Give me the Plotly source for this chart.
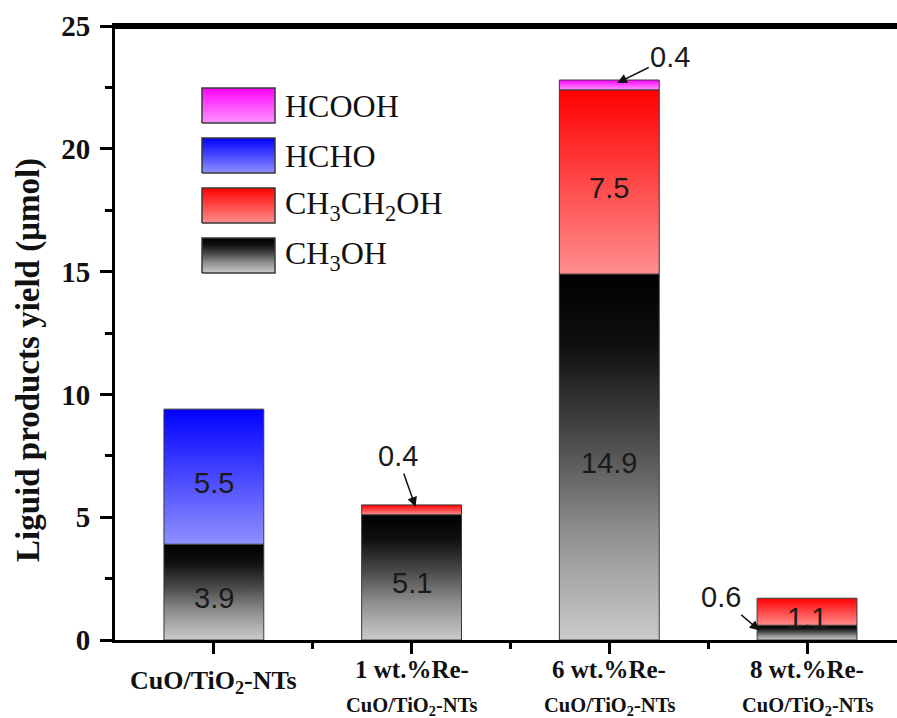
import plotly.graph_objects as go

# ---------------- data ----------------
categories = ["CuO/TiO<sub>2</sub>-NTs",
              "1 wt.%Re-|CuO/TiO<sub>2</sub>-NTs",
              "6 wt.%Re-|CuO/TiO<sub>2</sub>-NTs",
              "8 wt.%Re-|CuO/TiO<sub>2</sub>-NTs"]
series_names = ["CH<sub>3</sub>OH", "CH<sub>3</sub>CH<sub>2</sub>OH", "HCHO", "HCOOH"]
ch3oh = [3.9, 5.1, 14.9, 0.6]
ch3ch2oh = [0.0, 0.4, 7.5, 1.1]
hcho = [5.5, 0.0, 0.0, 0.0]
hcooh = [0.0, 0.0, 0.4, 0.0]
y_ticks = [0, 5, 10, 15, 20, 25]

# ---------------- styles ----------------
scales = {
    "CH<sub>3</sub>OH": [[0, "#cbcbcb"], [0.3, "#8e8e8e"], [0.55, "#4a4a4a"], [0.8, "#101010"], [1, "#000000"]],
    "CH<sub>3</sub>CH<sub>2</sub>OH": [[0, "#ff8e8e"], [0.5, "#ff4848"], [1, "#ff0000"]],
    "HCHO": [[0, "#9090ff"], [0.5, "#4848ff"], [1, "#0000ff"]],
    "HCOOH": [[0, "#ff92ff"], [0.5, "#ff4cff"], [1, "#ff00ff"]],
}
SERIF = "Liberation Serif"
SANS = "Liberation Sans"
EDGE = "#3a3a3a"
HW = 0.2525  # half bar width

fig = go.Figure()
stack = [ch3oh, ch3ch2oh, hcho, hcooh]
n = len(categories)
base = [0.0] * n
segments = []  # (cat index, series index, bottom, top)
for s, vals in enumerate(stack):
    for i in range(n):
        v = vals[i]
        if v > 0:
            b, t = base[i], base[i] + v
            segments.append((i, s, b, t))
            fig.add_trace(go.Scatter(
                x=[i - HW, i + HW, i + HW, i - HW, i - HW],
                y=[b, b, t, t, b],
                mode="lines", fill="toself",
                fillgradient=dict(type="vertical", colorscale=scales[series_names[s]]),
                line=dict(color=EDGE, width=1),
                hoverinfo="skip", showlegend=False))
            base[i] = t

annotations = []
# inside value labels
for (i, s, b, t) in segments:
    v = t - b
    if v >= 1:
        annotations.append(dict(x=i, y=(b + t) / 2, xref="x", yref="y", text=f"{v:.1f}",
                                showarrow=False, yshift=-6,
                                font=dict(family=SANS, size=29, color="#1a1a1a")))

# arrow labels for thin segments: (cat, series, x offset, fraction in segment, ax, ay)
arrow_cfg = [(1, 1, 0.02, 0.8, -18, -51), (2, 3, 0.04, 0.7, 53, -26), (3, 0, -0.24, 0.65, -39, -33)]
for (ci, si, dx, fr, ax, ay) in arrow_cfg:
    for (i, s, b, t) in segments:
        if i == ci and s == si:
            annotations.append(dict(x=i + dx, y=b + fr * (t - b), xref="x", yref="y",
                                    text=f"{t - b:.1f}", showarrow=True, ax=ax, ay=ay,
                                    arrowhead=2, arrowsize=1.3, arrowwidth=1.5,
                                    arrowcolor="#111", standoff=0, startstandoff=0,
                                    font=dict(family=SANS, size=29, color="#1a1a1a")))

# x category labels
for i, c in enumerate(categories):
    parts = c.split("|")
    if len(parts) == 1:
        annotations.append(dict(x=i, y=0, xref="x", yref="paper", text=parts[0], showarrow=False,
                                yanchor="middle", yshift=-42,
                                font=dict(family=SERIF, size=26, color="#111", weight="bold")))
    else:
        annotations.append(dict(x=i, y=0, xref="x", yref="paper", text=parts[0], showarrow=False,
                                yanchor="middle", yshift=-29,
                                font=dict(family=SERIF, size=25, color="#111", weight="bold")))
        annotations.append(dict(x=i, y=0, xref="x", yref="paper", text=parts[1], showarrow=False,
                                yanchor="middle", yshift=-66,
                                font=dict(family=SERIF, size=20.5, color="#111", weight="bold")))

# y title
annotations.append(dict(x=0, y=0.456, xref="paper", yref="paper", xshift=-87,
                        xanchor="center", yanchor="middle",
                        text="Liguid products yield (μmol)", textangle=-90, showarrow=False,
                        font=dict(family=SERIF, size=33, color="#111", weight="bold")))

# manual legend on a pixel-like overlay axis pair (x2: px, y2: px from plot bottom)
legend_order = ["HCOOH", "HCHO", "CH<sub>3</sub>CH<sub>2</sub>OH", "CH<sub>3</sub>OH"]
for k, name in enumerate(legend_order):
    top_px = 88 + k * 50
    bot_px = top_px + 35
    y0, y1 = 640 - bot_px, 640 - top_px
    fig.add_trace(go.Scatter(
        x=[202, 275, 275, 202, 202], y=[y0, y0, y1, y1, y0],
        xaxis="x2", yaxis="y2", mode="lines", fill="toself",
        fillgradient=dict(type="vertical", colorscale=scales[name]),
        line=dict(color=EDGE, width=1.5), hoverinfo="skip", showlegend=False))
    annotations.append(dict(x=283, y=(y0 + y1) / 2, xref="x2", yref="y2", text=name,
                            showarrow=False, xanchor="left", yanchor="middle",
                            font=dict(family=SERIF, size=32, color="#111")))

# top frame line (drawn on the overlay axis pair, just inside the plot area)
fig.add_trace(go.Scatter(x=[115, 897], y=[612.6, 612.6], xaxis="x2", yaxis="y2",
                         mode="lines", line=dict(color="black", width=3),
                         hoverinfo="skip", showlegend=False))

fig.update_layout(
    width=897, height=718,
    margin=dict(l=115, r=0, t=26, b=78),
    paper_bgcolor="white", plot_bgcolor="white",
    showlegend=False,
    annotations=annotations,
    shapes=[dict(type="line", xref="paper", yref="paper", x0=0, x1=1, y0=1, y1=1,
                 line=dict(color="black", width=3), layer="above")],
    xaxis=dict(range=[-0.5, 3.455], showgrid=False, zeroline=False,
               showline=True, linewidth=3, linecolor="black", mirror=True,
               ticks="outside", ticklen=11, tickwidth=3, tickcolor="black",
               tickmode="array", tickvals=list(range(n)), showticklabels=False,
               minor=dict(tickmode="array", tickvals=[0.5, 1.5, 2.5], ticks="outside",
                          ticklen=6, tickwidth=3, tickcolor="black")),
    yaxis=dict(range=[0, 25], showgrid=False, zeroline=False,
               showline=True, linewidth=3, linecolor="black",
               ticks="outside", ticklen=12, tickwidth=3, tickcolor="black",
               tickmode="array", tickvals=y_ticks, ticklabelstandoff=4,
               tickfont=dict(family=SERIF, size=29, color="#111", weight="bold"),
               minor=dict(dtick=2.5, ticks="outside", ticklen=7, tickwidth=3, tickcolor="black")),
    xaxis2=dict(overlaying="x", range=[115, 897], visible=False, anchor="y2"),
    yaxis2=dict(overlaying="y", range=[0, 614], visible=False, anchor="x2"),
)

fig.write_html("out.html", config={"displayModeBar": False},
               post_script="document.body.style.margin='0';")
